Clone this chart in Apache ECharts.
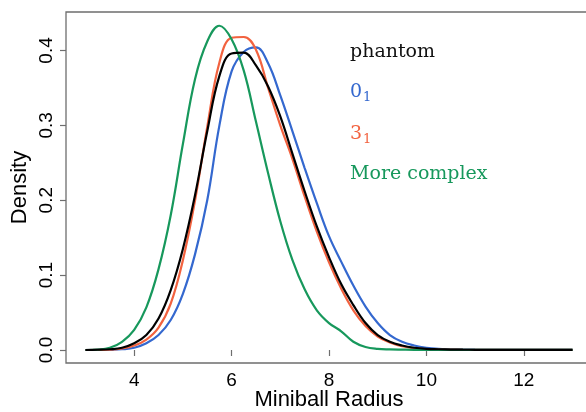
<!DOCTYPE html>
<html>
<head>
<meta charset="utf-8">
<script src="https://cdn.jsdelivr.net/npm/echarts@6/dist/echarts.min.js"></script>
<style>
html,body{margin:0;padding:0;background:#fff;}
#c{width:586px;height:412px;}
</style>
</head>
<body>
<div id="c"></div>
<script>
// Miniball radius grid (x values)
var radius = [3,3.25,3.5,3.75,4,4.25,4.5,4.75,5,5.25,5.5,5.75,6,6.25,6.5,6.75,7,7.25,7.5,7.75,8,8.25,8.5,8.75,9,9.25,9.5,9.75,10,10.25,10.5,10.75,11,11.25,11.5,11.75,12,12.25,12.5,12.75,13];

var phantom = [0,0.0003,0.001,0.003,0.009,0.020,0.042,0.080,0.135,0.207,0.292,0.366,0.396,0.397,0.380,0.352,0.312,0.262,0.212,0.165,0.124,0.088,0.060,0.036,0.020,0.011,0.006,0.003,0.0015,0.001,0.0006,0.0004,0.0003,0.0002,0.0002,0.0001,0.0001,0.0001,0.0001,0.0001,0.0001];
var unknot = [0,0.0001,0.0003,0.001,0.003,0.009,0.020,0.040,0.075,0.128,0.200,0.300,0.372,0.398,0.404,0.383,0.340,0.292,0.243,0.196,0.152,0.118,0.086,0.058,0.036,0.020,0.011,0.006,0.003,0.0015,0.001,0.0006,0.0004,0.0003,0.0002,0.0002,0.0001,0.0001,0.0001,0.0001,0.0001];
var trefoil = [0,0.0002,0.0005,0.002,0.006,0.014,0.030,0.062,0.120,0.200,0.298,0.384,0.417,0.418,0.401,0.350,0.300,0.255,0.205,0.158,0.117,0.082,0.053,0.032,0.018,0.010,0.005,0.0025,0.001,0.0007,0.0005,0.0003,0.0002,0.0002,0.0001,0.0001,0.0001,0.0001,0.0001,0.0001,0.0001];
var complex = [0,0.0005,0.003,0.011,0.027,0.057,0.108,0.180,0.275,0.362,0.412,0.433,0.415,0.373,0.305,0.236,0.172,0.120,0.081,0.053,0.036,0.025,0.011,0.004,0.0015,0.0008,0.0005,0.0003,0.0003,0.0002,0.0002,0.0001,0.0001,0.0001,0.0001,0.0001,0.0001,0.0001,0.0001,0.0001,0.0001];

var xTicks = [4,6,8,10,12];
var yTicks = [0,0.1,0.2,0.3,0.4];

function pairs(ys){ return radius.map(function(x,i){ return [x, ys[i]]; }); }

var chart = echarts.init(document.getElementById('c'), null, {renderer:'canvas'});
var axisFont = 'Liberation Sans';
var legFont = 'DejaVu Serif';
function sub(txt, col){
  return {
    text:txt,
    rich:{
      b:{fontFamily:legFont,fontSize:19,color:col,fill:col},
      s:{fontFamily:legFont,fontSize:13,color:col,fill:col,padding:[10,0,0,1]}
    }
  };
}
chart.setOption({
  animation:false,
  grid:{left:66, top:12, right:-6, bottom:49, show:true, borderColor:'#6e6e6e', borderWidth:1.3, backgroundColor:'transparent', containLabel:false, outerBoundsMode:'none'},
  xAxis:{type:'value', min:2.6, max:13.4,
    name:'Miniball Radius', nameLocation:'middle', nameGap:26, nameMoveOverlap:false,
    nameTextStyle:{fontFamily:axisFont, fontSize:22, color:'#000'},
    axisLine:{show:false},
    splitLine:{show:false},
    axisTick:{show:true, inside:false, length:6, lineStyle:{color:'#6e6e6e', width:1.2}, customValues:xTicks},
    axisLabel:{fontFamily:axisFont, fontSize:19, color:'#000', margin:8, customValues:xTicks}
  },
  yAxis:{type:'value', min:-0.01736, max:0.45136,
    name:'Density', nameLocation:'middle', nameGap:35, nameRotate:90, nameMoveOverlap:false,
    nameTextStyle:{fontFamily:axisFont, fontSize:22, color:'#000'},
    axisLine:{show:false},
    splitLine:{show:false},
    axisTick:{show:true, inside:false, length:6, lineStyle:{color:'#6e6e6e', width:1.2}, customValues:yTicks},
    axisLabel:{fontFamily:axisFont, fontSize:19, color:'#000', margin:10, rotate:90, customValues:yTicks,
      formatter:function(v){ return v.toFixed(1); }}
  },
  series:[
    {type:'line', data:pairs(unknot), smooth:0.4, symbol:'none', lineStyle:{color:'#3468cf', width:2.2}, z:2},
    {type:'line', data:pairs(trefoil), smooth:0.4, symbol:'none', lineStyle:{color:'#f2623f', width:2.2}, z:3},
    {type:'line', data:pairs(complex), smooth:0.4, symbol:'none', lineStyle:{color:'#17985c', width:2.2}, z:4},
    {type:'line', data:pairs(phantom), smooth:0.4, symbol:'none', lineStyle:{color:'#000000', width:2.2}, z:5}
  ],
  graphic:[
    {type:'text', left:350, top:43, style:{text:'phantom', fill:'#111', font:'19px "DejaVu Serif"'}},
    {type:'text', left:350, top:83, style:sub('{b|0}{s|1}', '#3468cf')},
    {type:'text', left:350, top:125, style:sub('{b|3}{s|1}', '#f2623f')},
    {type:'text', left:350, top:165, style:{text:'More complex', fill:'#17985c', font:'19px "DejaVu Serif"'}}
  ]
});
</script>
</body>
</html>
